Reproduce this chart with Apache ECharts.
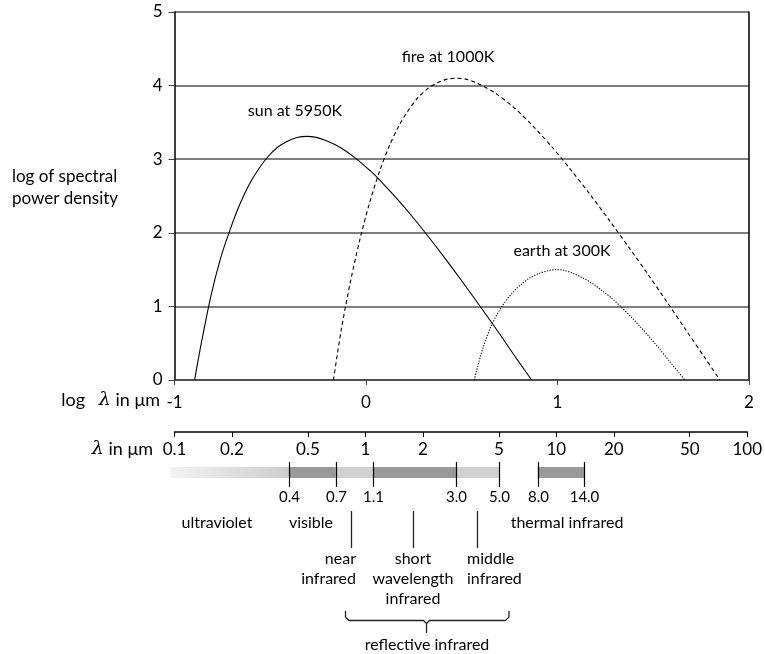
<!DOCTYPE html>
<html>
<head>
<meta charset="utf-8">
<script src="https://cdn.jsdelivr.net/npm/echarts@6/dist/echarts.min.js"></script>
<style>html,body{margin:0;padding:0;background:#fff}#c{width:765px;height:654px}</style>
</head>
<body>
<div id="c"></div>
<script>
// ---- data ----
const yTicks = [0, 1, 2, 3, 4, 5];
const logLambdaTicks = [-1, 0, 1, 2];
const lambdaTickLabels = ['0.1', '0.2', '0.5', '1', '2', '5', '10', '20', '50', '100'];

// [log10(lambda in um), log of spectral power density]
const sunCurve = [[-0.895,0],[-0.86,0.5],[-0.81,1.14],[-0.76,1.65],[-0.71,2.04],[-0.66,2.38],[-0.61,2.655],[-0.56,2.87],[-0.51,3.04],[-0.46,3.165],[-0.41,3.245],[-0.36,3.295],[-0.31,3.31],[-0.26,3.297],[-0.21,3.255],[-0.16,3.195],[-0.11,3.118],[-0.06,3.025],[-0.01,2.917],[0.04,2.80],[0.09,2.666],[0.14,2.525],[0.19,2.379],[0.24,2.225],[0.29,2.065],[0.39,1.731],[0.49,1.382],[0.59,1.022],[0.69,0.655],[0.79,0.276],[0.865,0]];
const fireCurve = [[-0.17,0],[-0.13,0.67],[-0.08,1.35],[-0.03,1.93],[0.02,2.42],[0.07,2.83],[0.12,3.17],[0.17,3.445],[0.22,3.66],[0.27,3.832],[0.32,3.955],[0.37,4.035],[0.42,4.085],[0.47,4.1],[0.52,4.088],[0.57,4.045],[0.62,3.98],[0.67,3.908],[0.77,3.707],[0.87,3.456],[0.97,3.169],[1.07,2.855],[1.17,2.521],[1.27,2.172],[1.37,1.812],[1.47,1.445],[1.57,1.066],[1.67,0.682],[1.77,0.30],[1.848,0]];
const earthCurve = [[0.565,0],[0.61,0.43],[0.66,0.77],[0.71,1.0],[0.76,1.17],[0.81,1.30],[0.86,1.395],[0.91,1.455],[0.96,1.49],[0.985,1.5],[1.035,1.49],[1.085,1.445],[1.135,1.383],[1.185,1.308],[1.235,1.21],[1.285,1.107],[1.335,0.985],[1.385,0.856],[1.435,0.715],[1.485,0.569],[1.535,0.414],[1.585,0.255],[1.635,0.095],[1.665,0]];

const bandStarts = [0.1, 0.4, 0.7, 1.1, 3.0, 8.0];
const bandEnds   = [0.4, 0.7, 1.1, 3.0, 5.0, 14.0];
const bandShades = ['fade', 'dark', 'light', 'dark', 'light', 'dark'];
const boundaryValues = [0.4, 0.7, 1.1, 3.0, 5.0, 8.0, 14.0];
const boundaryLabels = ['0.4', '0.7', '1.1', '3.0', '5.0', '8.0', '14.0'];

// ---- chart ----
const FONT = 'Lato';
const lambdaTickValues = lambdaTickLabels.map(s => Math.log10(parseFloat(s)));
const labelFor = v => {
  let best = 0;
  lambdaTickValues.forEach((t, i) => { if (Math.abs(t - v) < Math.abs(lambdaTickValues[best] - v)) best = i; });
  return lambdaTickLabels[best];
};

const chart = echarts.init(document.getElementById('c'), null, {renderer: 'canvas'});
const txt = (x, y, text, align, size) => ({
  type: 'text', x: x, y: y, silent: true,
  style: {text: text, fill: '#000', font: (size || 16) + 'px ' + FONT, align: align || 'center', verticalAlign: 'middle'}
});
const seg = (pts) => ({type: 'polyline', silent: true, shape: {points: pts}, style: {fill: null, stroke: '#222', lineWidth: 1.3}});

const bandData = bandStarts.map((s, i) => [Math.log10(s), Math.log10(bandEnds[i])]);
const boundaryData = boundaryValues.map(v => [Math.log10(v), 0]);

chart.setOption({
  animation: false,
  backgroundColor: '#fff',
  textStyle: {fontFamily: FONT},
  grid: [
    {left: 174.5, right: 16, top: 12, height: 368},
    {left: 174.5, right: 16, top: 432, height: 200}
  ],
  xAxis: [
    {type: 'value', gridIndex: 0, min: -1, max: 2, interval: 1,
     axisLine: {show: true, onZero: false, lineStyle: {color: '#404040', width: 1.5}},
     axisTick: {show: true, length: 5, lineStyle: {color: '#404040'}},
     axisLabel: {color: '#000', fontSize: 17, margin: 14, fontFamily: FONT},
     splitLine: {show: false}},
    {type: 'value', gridIndex: 1, min: -1, max: 2, position: 'top',
     axisLine: {show: true, onZero: false, lineStyle: {color: '#000', width: 1.5}},
     axisTick: {show: true, inside: true, length: 5, lineStyle: {color: '#000'}, customValues: lambdaTickValues},
     axisLabel: {inside: true, color: '#000', fontSize: 17, margin: 9, fontFamily: FONT,
       customValues: lambdaTickValues, formatter: v => labelFor(v)},
     splitLine: {show: false}}
  ],
  yAxis: [
    {type: 'value', gridIndex: 0, min: 0, max: 5, interval: 1,
     axisLine: {show: true, onZero: false, lineStyle: {color: '#000', width: 1.5}},
     axisTick: {show: true, length: 6, lineStyle: {color: '#404040'}},
     axisLabel: {color: '#000', fontSize: 17, margin: 12, fontFamily: FONT},
     splitLine: {show: true, lineStyle: {color: '#7f7f7f', width: 2}}},
    {type: 'value', gridIndex: 0, min: 0, max: 5, position: 'right',
     axisLine: {show: true, onZero: false, lineStyle: {color: '#000', width: 1.5}},
     axisTick: {show: false}, axisLabel: {show: false}, splitLine: {show: false}},
    {type: 'value', gridIndex: 1, min: 0, max: 1, show: false}
  ],
  series: [
    {name: 'sun', type: 'line', xAxisIndex: 0, yAxisIndex: 0, data: sunCurve, smooth: 0.3,
     showSymbol: false, lineStyle: {color: '#000', width: 1.1, type: 'solid'}},
    {name: 'fire', type: 'line', xAxisIndex: 0, yAxisIndex: 0, data: fireCurve, smooth: 0.3,
     showSymbol: false, lineStyle: {color: '#000', width: 1.1, type: [4, 3]}},
    {name: 'earth', type: 'line', xAxisIndex: 0, yAxisIndex: 0, data: earthCurve, smooth: 0.3,
     showSymbol: false, lineStyle: {color: '#000', width: 1.1, type: [1.2, 1.5]}},
    {name: 'bands', type: 'custom', xAxisIndex: 1, yAxisIndex: 2, data: bandData, clip: false,
     renderItem: function (params, api) {
       const x0 = api.coord([api.value(0), 0])[0];
       const x1 = api.coord([api.value(1), 0])[0];
       const shade = bandShades[params.dataIndex];
       const top = params.coordSys.y + 35;
       let fill = shade === 'dark' ? '#999999' : '#d0d0d0';
       let ext = 0;
       if (shade === 'fade') {
         ext = 4;
         fill = {type: 'linear', x: 0, y: 0, x2: 1, y2: 0,
           colorStops: [{offset: 0, color: '#f3f3f3'}, {offset: 1, color: '#cdcdcd'}]};
       }
       return {type: 'rect', shape: {x: x0 - ext, y: top, width: x1 - x0 + ext, height: 11},
               style: {fill: fill}};
     }},
    {name: 'boundaries', type: 'custom', xAxisIndex: 1, yAxisIndex: 2, data: boundaryData, clip: false,
     renderItem: function (params, api) {
       const x = Math.round(api.coord([api.value(0), 0])[0]) + 0.5;
       const top = params.coordSys.y;
       return {type: 'group', children: [
         {type: 'line', shape: {x1: x, y1: top + 30, x2: x, y2: top + 55}, style: {stroke: '#000', lineWidth: 1.2}},
         {type: 'text', x: x, y: top + 65, style: {text: boundaryLabels[params.dataIndex], fill: '#000',
           font: '15px ' + FONT, align: 'center', verticalAlign: 'middle'}}
       ]};
     }}
  ],
  graphic: [
    txt(12, 177, 'log of spectral', 'left', 17),
    txt(12, 199, 'power density', 'left', 17),
    {type: 'text', x: 160, y: 400, silent: true, style: {
      rich: {a: {font: '18px ' + FONT, fill: '#000'}, l: {font: 'italic 19px "DejaVu Serif"', fill: '#000'}},
      text: '{a|log   }{l|λ}{a| in μm}', align: 'right', verticalAlign: 'middle'}},
    {type: 'text', x: 153, y: 449, silent: true, style: {
      rich: {a: {font: '18px ' + FONT, fill: '#000'}, l: {font: 'italic 19px "DejaVu Serif"', fill: '#000'}},
      text: '{l|λ}{a| in μm}', align: 'right', verticalAlign: 'middle'}},
    txt(295, 111, 'sun at 5950K'),
    txt(448, 57, 'fire at 1000K'),
    txt(562, 251, 'earth at 300K'),
    txt(217, 523, 'ultraviolet'),
    txt(311, 523, 'visible'),
    txt(567, 523, 'thermal infrared'),
    txt(356, 559, 'near', 'right'),
    txt(356, 579, 'infrared', 'right'),
    txt(413, 559, 'short'),
    txt(413, 579, 'wavelength'),
    txt(413, 599, 'infrared'),
    txt(467, 559, 'middle', 'left'),
    txt(467, 579, 'infrared', 'left'),
    txt(427, 645, 'reflective infrared'),
    seg([[351.5, 511], [351.5, 548]]),
    seg([[413.5, 511], [413.5, 548]]),
    seg([[477.5, 511], [477.5, 548]]),
    seg([[345.5, 611], [345.5, 617], [349, 620.5], [423.5, 620.5], [426.5, 623.5], [426.5, 633]]),
    seg([[426.5, 623.5], [429.5, 620.5], [505.5, 620.5], [509, 617], [509, 611]])
  ]
});
</script>
</body>
</html>
